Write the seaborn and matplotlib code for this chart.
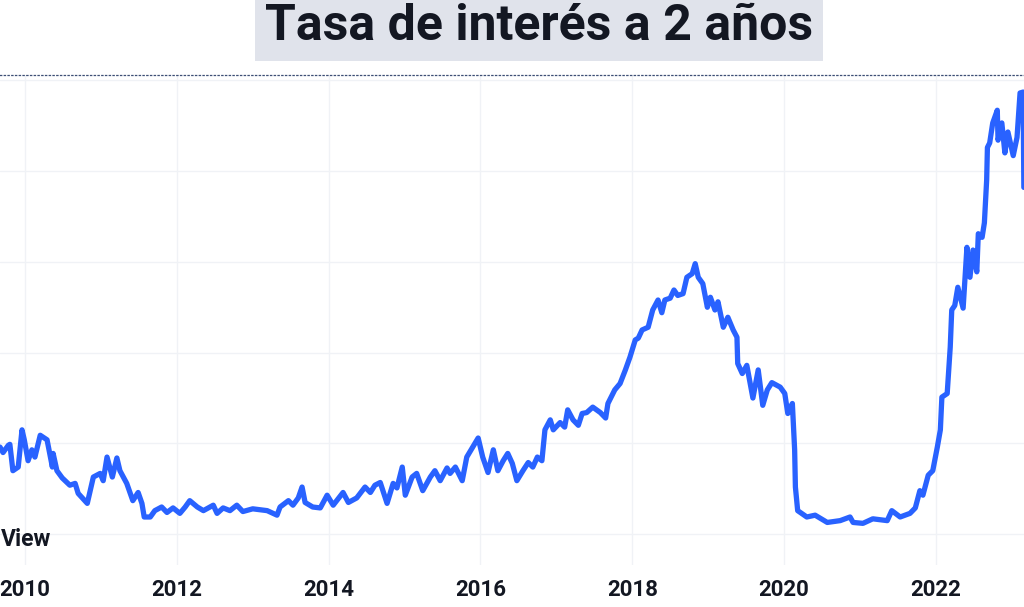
import pandas as pd
import numpy as np
import matplotlib.pyplot as plt
import seaborn as sns

# decimal year / yield (%)
years = [2009.67, 2009.71, 2009.78, 2009.80, 2009.84, 2009.91, 2009.96, 2009.99, 2010.04, 2010.09,
         2010.13, 2010.20, 2010.29, 2010.36, 2010.37, 2010.42, 2010.49, 2010.59, 2010.66, 2010.70,
         2010.82, 2010.90, 2010.99, 2011.03, 2011.08, 2011.15, 2011.21, 2011.25, 2011.34, 2011.42,
         2011.49, 2011.54, 2011.57, 2011.65, 2011.71, 2011.80, 2011.87, 2011.95, 2012.04, 2012.11,
         2012.17, 2012.27, 2012.35, 2012.48, 2012.53, 2012.61, 2012.70, 2012.79, 2012.87, 2013.00,
         2013.19, 2013.32, 2013.36, 2013.47, 2013.53, 2013.60, 2013.65, 2013.69, 2013.79, 2013.89,
         2013.98, 2014.06, 2014.19, 2014.26, 2014.37, 2014.48, 2014.55, 2014.61, 2014.68, 2014.77,
         2014.85, 2014.90, 2014.97, 2015.01, 2015.10, 2015.16, 2015.24, 2015.34, 2015.40, 2015.47,
         2015.56, 2015.60, 2015.67, 2015.76, 2015.82, 2015.97, 2016.03, 2016.10, 2016.17, 2016.23,
         2016.30, 2016.36, 2016.42, 2016.48, 2016.56, 2016.63, 2016.69, 2016.75, 2016.81, 2016.85,
         2016.92, 2016.96, 2017.05, 2017.11, 2017.15, 2017.22, 2017.29, 2017.34, 2017.40, 2017.48,
         2017.58, 2017.65, 2017.68, 2017.77, 2017.84, 2017.91, 2017.97, 2018.04, 2018.08, 2018.13,
         2018.21, 2018.27, 2018.34, 2018.39, 2018.43, 2018.50, 2018.55, 2018.60, 2018.67, 2018.72,
         2018.79, 2018.83, 2018.87, 2018.93, 2018.99, 2019.03, 2019.09, 2019.13, 2019.20, 2019.26,
         2019.33, 2019.38, 2019.39, 2019.45, 2019.51, 2019.59, 2019.66, 2019.72, 2019.78, 2019.84,
         2019.95, 2020.01, 2020.05, 2020.11, 2020.14, 2020.15, 2020.18, 2020.30, 2020.41, 2020.57,
         2020.74, 2020.87, 2020.91, 2021.04, 2021.17, 2021.36, 2021.42, 2021.53, 2021.66, 2021.73,
         2021.79, 2021.83, 2021.90, 2021.96, 2022.02, 2022.06, 2022.08, 2022.15, 2022.19, 2022.21,
         2022.25, 2022.29, 2022.36, 2022.41, 2022.45, 2022.49, 2022.54, 2022.56, 2022.61, 2022.64,
         2022.67, 2022.68, 2022.71, 2022.75, 2022.81, 2022.82, 2022.87, 2022.91, 2022.95, 2023.02,
         2023.07, 2023.11, 2023.15, 2023.16]
rates = [0.96, 0.90, 0.98, 0.99, 0.70, 0.74, 1.15, 1.04, 0.81, 0.93,
         0.85, 1.09, 1.04, 0.74, 0.89, 0.70, 0.62, 0.54, 0.56, 0.45,
         0.34, 0.63, 0.67, 0.59, 0.85, 0.63, 0.84, 0.70, 0.56, 0.37,
         0.46, 0.34, 0.19, 0.19, 0.26, 0.30, 0.24, 0.29, 0.23, 0.30,
         0.37, 0.30, 0.26, 0.32, 0.23, 0.29, 0.26, 0.32, 0.25, 0.28,
         0.26, 0.21, 0.30, 0.37, 0.32, 0.40, 0.52, 0.35, 0.30, 0.29,
         0.43, 0.32, 0.46, 0.35, 0.40, 0.52, 0.46, 0.54, 0.57, 0.34,
         0.56, 0.51, 0.74, 0.43, 0.63, 0.67, 0.48, 0.63, 0.70, 0.59,
         0.73, 0.67, 0.74, 0.59, 0.85, 1.06, 0.85, 0.68, 0.93, 0.70,
         0.81, 0.89, 0.78, 0.59, 0.70, 0.79, 0.74, 0.85, 0.81, 1.15,
         1.26, 1.15, 1.23, 1.18, 1.37, 1.26, 1.20, 1.33, 1.34, 1.40,
         1.34, 1.28, 1.44, 1.59, 1.66, 1.81, 1.95, 2.14, 2.16, 2.25,
         2.28, 2.47, 2.58, 2.44, 2.58, 2.60, 2.69, 2.63, 2.65, 2.83,
         2.87, 2.98, 2.83, 2.76, 2.50, 2.61, 2.47, 2.56, 2.28, 2.39,
         2.25, 2.17, 1.88, 1.77, 1.86, 1.50, 1.81, 1.42, 1.59, 1.67,
         1.62, 1.55, 1.33, 1.44, 0.93, 0.52, 0.26, 0.19, 0.21, 0.13,
         0.15, 0.19, 0.13, 0.12, 0.17, 0.15, 0.26, 0.19, 0.23, 0.29,
         0.48, 0.43, 0.65, 0.70, 0.96, 1.15, 1.51, 1.55, 2.06, 2.47,
         2.52, 2.72, 2.49, 3.16, 2.83, 3.13, 2.89, 3.31, 3.27, 3.43,
         3.90, 4.26, 4.31, 4.53, 4.67, 4.34, 4.53, 4.20, 4.43, 4.17,
         4.37, 4.86, 4.87, 3.82]
year_ticks = [2010, 2012, 2014, 2016, 2018, 2020, 2022]
rate_grid = [0, 1, 2, 3, 4, 5]

df = pd.DataFrame({'year': years, 'rate': rates})

sns.set_theme(style='white')
plt.rcParams['font.family'] = ['Roboto', 'DejaVu Sans']

fig = plt.figure(figsize=(10.24, 6.07), dpi=100)
ax = fig.add_axes([0, 0.069, 1, 0.807])

sns.lineplot(data=df, x='year', y='rate', ax=ax, color='#2962ff', linewidth=3.8)

ax.set_xlim(2009.67, 2023.162)
ax.set_ylim(-0.34, 5.055)
ax.set_xticks(year_ticks)
ax.set_xticklabels([str(y) for y in year_ticks], fontsize=16, color='#131722', fontweight='bold')
ax.set_yticks(rate_grid)
ax.set_yticklabels([])
ax.tick_params(axis='x', length=0, pad=10)
ax.tick_params(axis='y', length=0)
ax.grid(True, color='#f0f2f6', linewidth=1)
ax.set_xlabel('')
ax.set_ylabel('')
for s in ['left', 'right', 'bottom']:
    ax.spines[s].set_visible(False)
ax.spines['top'].set_linestyle((0, (1, 2)))
ax.spines['top'].set_color('#3d4f75')
ax.spines['top'].set_linewidth(0.9)

# watermark, cropped in the source image
fig.text(1 / 1024, 1 - 540 / 607, 'View', ha='left', va='center',
         fontsize=16.5, fontweight='bold', color='#131722')

fig.text(539 / 1024, 1 - 27 / 607, 'Tasa de interés a 2 años', ha='center', va='center',
         fontsize=36, fontweight='bold', color='#131722',
         bbox=dict(facecolor='#e0e3eb', edgecolor='none', boxstyle='square,pad=0.2'))

plt.savefig('out.png', dpi=100)
